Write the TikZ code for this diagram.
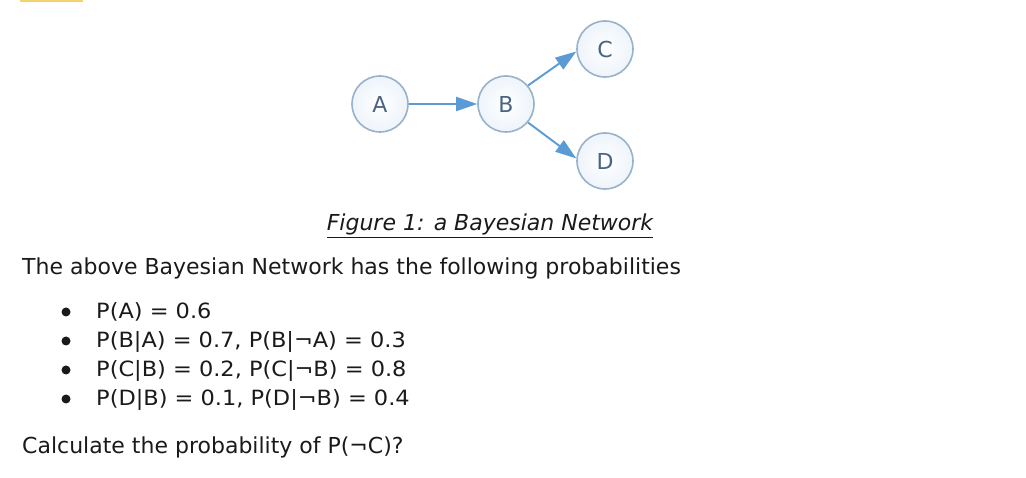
\documentclass[tikz,border=0pt]{standalone}
\usepackage{fontspec}
\setmainfont{DejaVu Sans}
\newfontfamily\listfont[FakeStretch=1.07]{DejaVu Sans}
\usetikzlibrary{arrows.meta}
\definecolor{arrowblue}{HTML}{5B9BD5}
\definecolor{nodeborder}{HTML}{98B2CC}
\definecolor{nodefill}{HTML}{EEF4FB}
\definecolor{nodetext}{HTML}{4A6482}
\definecolor{txt}{HTML}{1A1A1A}
\definecolor{hl}{HTML}{F6D36A}
\tikzset{
  bnode/.style={circle, draw=nodeborder, line width=1.6pt, inner color=white, outer color=nodefill,
    minimum size=56pt, inner sep=0pt, text=nodetext, font=\fontsize{22}{24}\selectfont},
  barrow/.style={draw=arrowblue, line width=1.9pt, -{Triangle[length=21pt,width=14pt]}},
  bodytext/.style={anchor=base west, inner sep=0pt, text=txt, font=\fontsize{22}{26}\selectfont},
  listtext/.style={anchor=base west, inner sep=0pt, text=txt, font=\listfont\fontsize{21}{25}\selectfont},
  bullet/.style={circle, fill=txt, inner sep=0pt, minimum size=9pt}
}
\begin{document}
\begin{tikzpicture}[x=1pt,y=-1pt]
\useasboundingbox (0,0) rectangle (1026,478);
\fill[hl] (20,0) rectangle (83,2);
\node[bnode] (A) at (380,104) {A};
\node[bnode] (B) at (506,104) {B};
\node[bnode] (C) at (605,49) {C};
\node[bnode] (D) at (605,161) {D};
\draw[barrow] (A) -- (B);
\draw[barrow] (B.40) -- (C.185);
\draw[barrow] (B.-40) -- (D.175);
\node[anchor=base, inner sep=0pt, text=txt, font=\fontsize{22}{25}\selectfont\itshape] (cap) at (490,231) {\underline{Figure 1: a Bayesian Network}};
\node[bodytext] (intro) at (22,275) {The above Bayesian Network has the following probabilities};
\node[bullet] (b1) at (66,312) {};
\node[bullet] (b2) at (66,341) {};
\node[bullet] (b3) at (66,370) {};
\node[bullet] (b4) at (66,399) {};
\node[listtext] (l1) at (96,319) {P(A) = 0.6};
\node[listtext] (l2) at (96,348) {P(B|A) = 0.7, P(B|¬A) = 0.3};
\node[listtext] (l3) at (96,377) {P(C|B) = 0.2, P(C|¬B) = 0.8};
\node[listtext] (l4) at (96,406) {P(D|B) = 0.1, P(D|¬B) = 0.4};
\node[bodytext] (q) at (22,453) {Calculate the probability of P(¬C)?};
\end{tikzpicture}
\end{document}
